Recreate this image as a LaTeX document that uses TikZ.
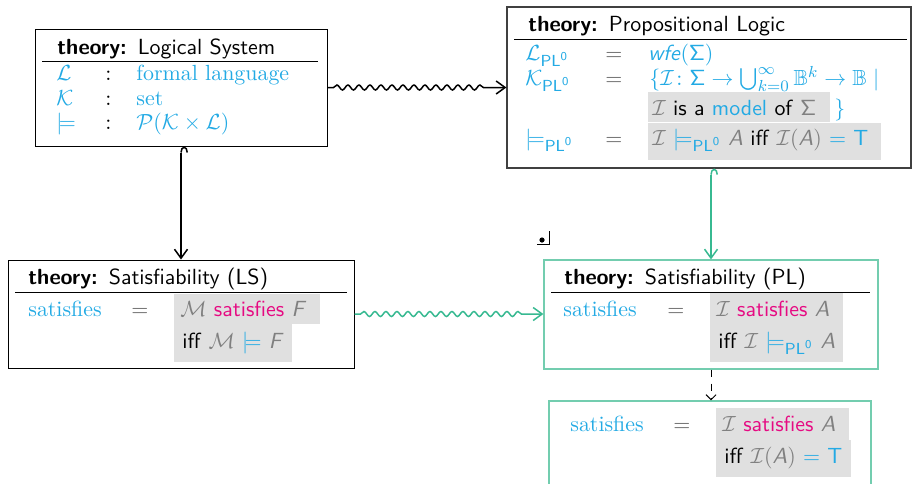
\documentclass[tikz,border=0pt]{standalone}
\usepackage{amsmath,amssymb}
\usetikzlibrary{arrows.meta,decorations.pathmorphing,fit}
\definecolor{cyanx}{RGB}{35,170,228}
\definecolor{magx}{RGB}{230,10,130}
\definecolor{grayx}{RGB}{128,128,128}
\definecolor{eqgray}{RGB}{95,95,95}
\definecolor{graybg}{RGB}{224,224,224}
\definecolor{greenarr}{RGB}{55,185,145}
\definecolor{greenbox}{RGB}{115,205,175}
\newcommand{\cy}[1]{\textcolor{cyanx}{#1}}
\newcommand{\gy}[1]{\textcolor{grayx}{#1}}
\newcommand{\eqg}{\textcolor{eqgray}{$=$}}
\newcommand{\mg}[1]{\textcolor{magx}{#1}}
\newcommand{\PLz}{\textsf{PL}^{\textsf{0}}}
\newcommand{\sfi}[1]{\textsf{\itshape #1}}
\newcommand{\thy}[1]{\textsf{\bfseries theory:}\enspace\textsf{#1}}
\begin{document}
\begin{tikzpicture}[x=0.5pt,y=-0.5pt,
  T/.style={anchor=base west,inner sep=0pt,font=\fontsize{10.95}{13}\selectfont},
  boxline/.style={draw=black,line width=0.5pt,inner sep=0pt},
  gboxline/.style={draw=greenbox,line width=0.6pt,inner sep=0pt},
  rule/.style={line width=0.5pt},
  gfill/.style={fill=graybg},
  wavy/.style={line width=0.75pt,decorate,decoration={snake,amplitude=1.25pt,segment length=5.5pt,pre length=3pt,post length=9pt}},
  tipx/.style={-{Straight Barb[length=4.5pt,width=6.5pt]}},
  hookarr/.style={line width=0.75pt,{Hooks[right,length=3pt,width=7pt]}-{Straight Barb[length=4.5pt,width=6.5pt]}}]
\useasboundingbox (0,0) rectangle (913,483);
\clip (0,0) rectangle (913,483);

% boxes
\node[boxline,fit={(35,29) (327,146)}] (ls) {};
\node[draw=black!75,line width=0.6pt,inner sep=0pt,fit={(507,7) (911,168)}] (pl) {};
\node[boxline,fit={(8,260) (354,368)}] (satls) {};
\node[gboxline,fit={(544,260) (878,369)}] (satpl) {};
\node[gboxline,fit={(549,401) (871,520)}] (bot) {};

% Logical System
\node[T] (ls-t) at (57,54) {\thy{Logical System}};
\draw[rule] (42,61) -- (318,61);
\node[T] (ls-a1) at (56,80) {\cy{$\mathcal{L}$}};
\node[T] (ls-b1) at (105,80) {:};
\node[T] (ls-c1) at (136,80) {\cy{formal language}};
\node[T] (ls-a2) at (56,105) {\cy{$\mathcal{K}$}};
\node[T] (ls-b2) at (105,105) {:};
\node[T] (ls-c2) at (136,105) {\cy{set}};
\node[T] (ls-a3) at (56,129) {\cy{$\models$}};
\node[T] (ls-b3) at (105,129) {:};
\node[T] (ls-c3) at (136,129) {\cy{$\mathcal{P}(\mathcal{K}\times\mathcal{L})$}};

% Propositional Logic
\node[T] (pl-t) at (528,31) {\thy{Propositional Logic}};
\draw[rule] (514,39) -- (907,39);
\node[T] (pl-a1) at (525,60) {\cy{$\mathcal{L}_{\PLz}$}};
\node[T] (pl-b1) at (605,60) {\eqg};
\node[T] (pl-c1) at (648,60) {\cy{\sfi{wfe}$(\mathsf{\Sigma})$}};
\node[T] (pl-a2) at (525,85) {\cy{$\mathcal{K}_{\PLz}$}};
\node[T] (pl-b2) at (605,85) {\eqg};
\node[T] (pl-c2) at (649,85) {\cy{$\{\mathcal{I}\colon\mathsf{\Sigma}\to\bigcup_{k=0}^{\infty}\mathbb{B}^k\to\mathbb{B}\mid$}};
\fill[gfill] (648,92) rectangle (830,122);
\node[T] (pl-c3) at (652,115) {\gy{$\mathcal{I}$} \textsf{is a \cy{model} of} \gy{$\mathsf{\Sigma}$}};
\node[T] (pl-d3) at (834,115) {\cy{$\}$}};
\node[T] (pl-a4) at (525,145) {\cy{$\models_{\PLz}$}};
\node[T] (pl-b4) at (605,145) {\eqg};
\fill[gfill] (648,123) rectangle (881,160);
\node[T] (pl-c4) at (652,145) {\gy{$\mathcal{I}$} \cy{$\models_{\PLz}$} \gy{\sfi{A}} \textsf{iff} \gy{$\mathcal{I}($\sfi{A}$)$} \cy{$=$ \textsf{T}}};

% Satisfiability (LS)
\node[T] (sl-t) at (28,284) {\thy{Satisfiability (LS)}};
\draw[rule] (15,292) -- (347,292);
\node[T] (sl-a1) at (28,316) {\cy{satisfies}};
\node[T] (sl-b1) at (131,316) {\eqg};
\fill[gfill] (174,294) rectangle (320,324);
\node[T] (sl-c1) at (180,316) {\gy{$\mathcal{M}$} \mg{\textsf{satisfies}} \gy{\sfi{F}}};
\fill[gfill] (174,324) rectangle (292,362);
\node[T] (sl-c2) at (182,348) {\textsf{iff} \gy{$\mathcal{M}$} \cy{$\models$} \gy{\sfi{F}}};

% Satisfiability (PL)
\node[T] (sp-t) at (564,284) {\thy{Satisfiability (PL)}};
\draw[rule] (551,292) -- (870,292);
\node[T] (sp-a1) at (563,316) {\cy{satisfies}};
\node[T] (sp-b1) at (667,316) {\eqg};
\fill[gfill] (710,293) rectangle (843,324);
\node[T] (sp-c1) at (716,316) {\gy{$\mathcal{I}$} \mg{\textsf{satisfies}} \gy{\sfi{A}}};
\fill[gfill] (710,324) rectangle (843,362);
\node[T] (sp-c2) at (718,348) {\textsf{iff} \gy{$\mathcal{I}$} \cy{$\models_{\PLz}$} \gy{\sfi{A}}};

% bottom box
\node[T] (bt-a1) at (570,431) {\cy{satisfies}};
\node[T] (bt-b1) at (673,431) {\eqg};
\fill[gfill] (716,408) rectangle (849,440);
\node[T] (bt-c1) at (722,431) {\gy{$\mathcal{I}$} \mg{\textsf{satisfies}} \gy{\sfi{A}}};
\fill[gfill] (716,440) rectangle (851,477);
\node[T] (bt-c2) at (724,463) {\textsf{iff} \gy{$\mathcal{I}($\sfi{A}$)$} \cy{$=$ \textsf{T}}};

% small corner mark
\coordinate (mk) at (542,240);
\fill (mk) circle (1.3pt);
\draw[line width=0.5pt] ([xshift=-2.5pt,yshift=-2pt]mk) -- ([xshift=3.5pt,yshift=-2pt]mk) -- ([xshift=3.5pt,yshift=4.5pt]mk);

% connectors
\draw[wavy,tipx] (ls.east) -- (pl.west);
\draw[hookarr] (ls.south) -- (satls.north);
\draw[hookarr,greenarr] (pl.south -| satpl.north) -- (satpl.north);
\draw[wavy,tipx,greenarr] (satls.east) -- (satls.east -| satpl.west);
\draw[line width=0.5pt,dash pattern=on 3.5pt off 3.5pt,-{Straight Barb[length=2.5pt,width=5pt]}] (satpl.south) -- (satpl.south |- bot.north);
\end{tikzpicture}
\end{document}
